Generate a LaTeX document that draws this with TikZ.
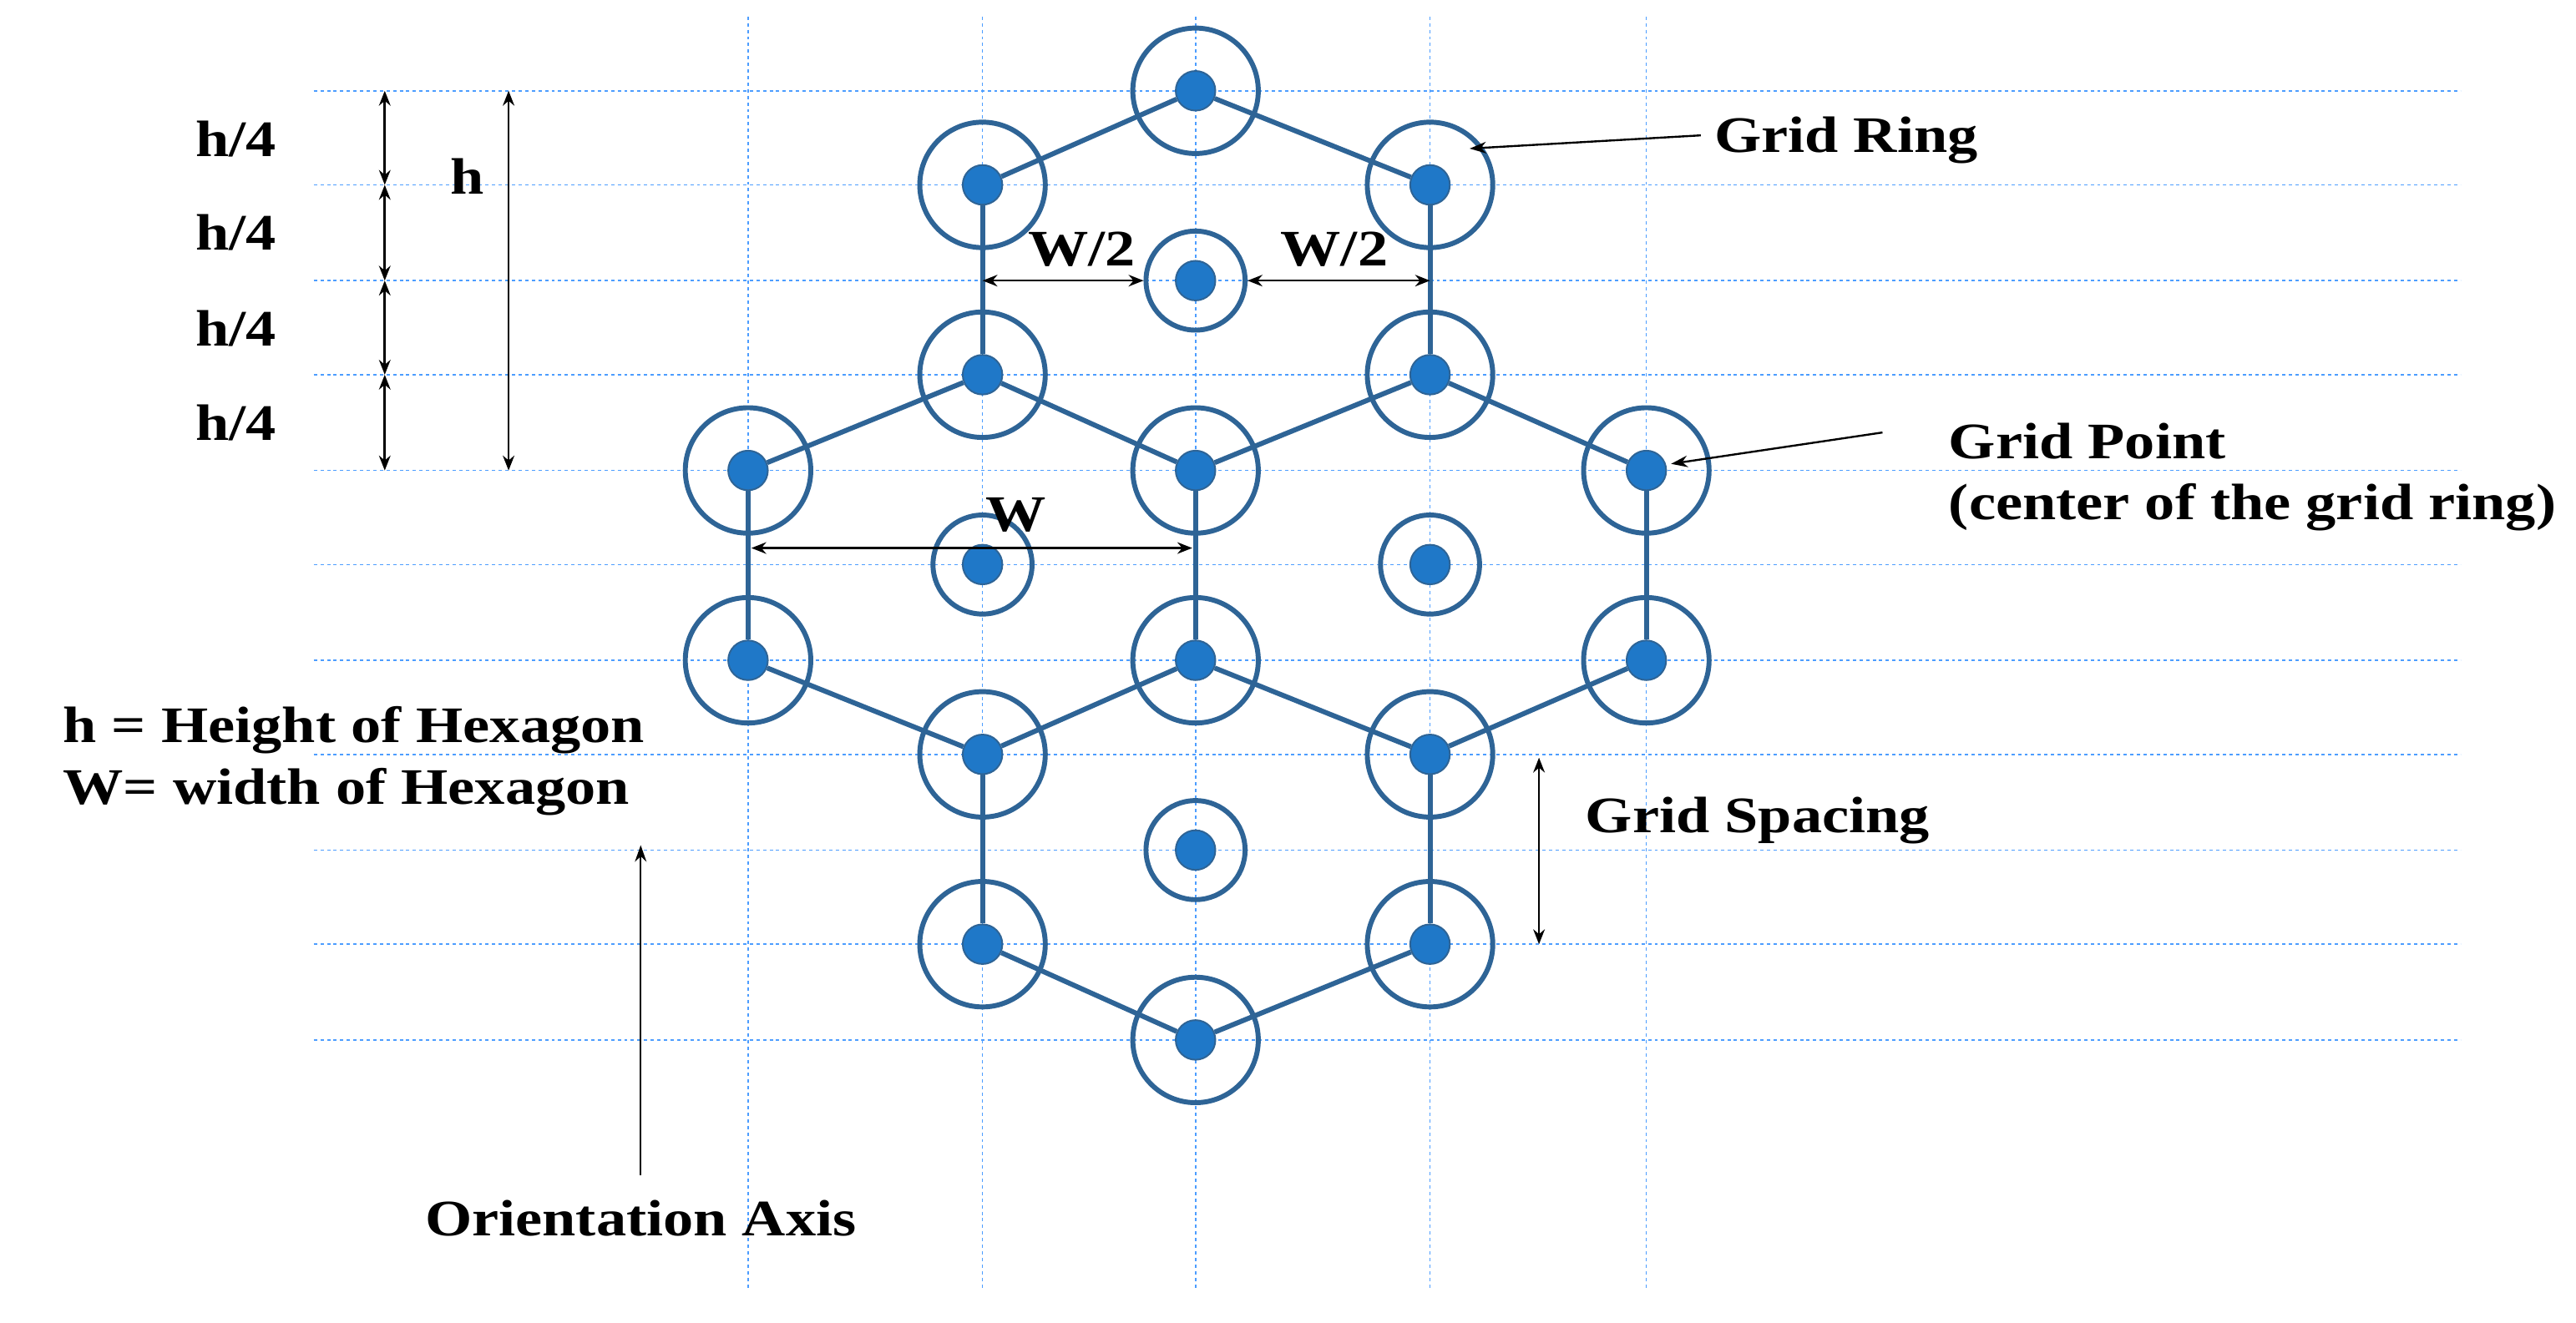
\documentclass[tikz,border=0pt]{standalone}
\usepackage{fontspec}
\setmainfont{Liberation Serif}[FakeStretch=1.18]
\usetikzlibrary{arrows.meta}
\begin{document}
\begin{tikzpicture}[x=1pt,y=-1pt,
 grid/.style={draw=blue!55!cyan!70,line width=0.8pt,dash pattern=on 2pt off 2pt},
 ring/.style={circle,draw=ringc,line width=3pt,minimum size=76pt,inner sep=0pt},
 sring/.style={circle,draw=ringc,line width=3pt,minimum size=60pt,inner sep=0pt},
 dot/.style={circle,fill=dotc,draw=ringc,line width=1pt,minimum size=24pt,inner sep=0pt},
 edge/.style={draw=ringc,line width=3pt},
 dim/.style={{Stealth[length=9pt,width=7pt]}-{Stealth[length=9pt,width=7pt]},line width=1.3pt},
 lab/.style={font=\fontsize{31}{37}\selectfont\bfseries,inner sep=0pt},
 ann/.style={-{Stealth[length=10pt,width=7pt]},line width=1.2pt}]
\definecolor{ringc}{HTML}{2E6496}
\definecolor{dotc}{HTML}{1F78C8}
\useasboundingbox (0,0) rectangle (1560,801);
\foreach \y in {55,112,170,227,285,342,400,457,515,572,630} \draw[grid] (190,\y) -- (1490,\y);
\foreach \x in {453,595,724,866,997} \draw[grid] (\x,10) -- (\x,780);
\foreach \n/\x/\y in {a/724/55,b/595/112,c/866/112,e/595/227,f/866/227,g/453/285,h/724/285,i/997/285,l/453/400,m/724/400,n/997/400,o/595/457,p/866/457,r/595/572,s/866/572,t/724/630}
 {\node[ring] (r\n) at (\x,\y) {}; \node[dot] (\n) at (\x,\y) {};}
\foreach \n/\x/\y in {d/724/170,j/595/342,k/866/342,q/724/515}
 {\node[sring] (r\n) at (\x,\y) {}; \node[dot] (\n) at (\x,\y) {};}
\foreach \u/\v in {a/b,a/c,b/e,c/f,e/h,f/h,e/g,f/i,g/l,i/n,h/m,l/o,m/o,m/p,n/p,o/r,p/s,r/t,s/t}
 \draw[edge] (\u) -- (\v);
% dimension arrows
\coordinate (y0) at (233,55); \coordinate (y1) at (233,112); \coordinate (y2) at (233,170);
\coordinate (y3) at (233,227); \coordinate (y4) at (233,285);
\draw[dim] (y0) -- (y1); \draw[dim] (y1) -- (y2); \draw[dim] (y2) -- (y3); \draw[dim] (y3) -- (y4);
\node[lab] (q1) at (143,84) {h/4}; \node[lab] (q2) at (143,141) {h/4};
\node[lab] (q3) at (143,199) {h/4}; \node[lab] (q4) at (143,256) {h/4};
\coordinate (h0) at (308,55); \coordinate (h1) at (308,285);
\draw[dim] (h0) -- (h1); \node[lab] (hl) at (283,107) {h};
\draw[dim] (595,170) -- (rd.west); \draw[dim] (rd.east) -- (866,170);
\node[lab] (wl1) at (655,151) {W/2}; \node[lab] (wl2) at (808,151) {W/2};
\coordinate (W0) at (455,332); \coordinate (W1) at (722,332);
\draw[dim] (W0) -- (W1); \node[lab] (Wl) at (615,312) {W};
\node[lab,anchor=west] (gr) at (1038,85) {Grid Ring};
\coordinate (gra) at (1030,82); \coordinate (grb) at (890,90);
\draw[ann] (gra) -- (grb);
\node[lab,anchor=west,align=left] (gp) at (1180,289) {Grid Point\\(center of the grid ring)};
\coordinate (gpa) at (1140,262); \coordinate (gpb) at (1012,281);
\draw[ann] (gpa) -- (gpb);
\node[lab,anchor=west] (gs) at (960,497) {Grid Spacing};
\coordinate (gs0) at (932,459); \coordinate (gs1) at (932,572);
\draw[dim] (gs0) -- (gs1);
\node[lab] (oa) at (388,738) {Orientation Axis};
\coordinate (oa0) at (388,712); \coordinate (oa1) at (388,512);
\draw[ann] (oa0) -- (oa1);
\node[lab,anchor=west,align=left] (def) at (38,461) {h = Height of Hexagon\\W= width of Hexagon};
\end{tikzpicture}
\end{document}
